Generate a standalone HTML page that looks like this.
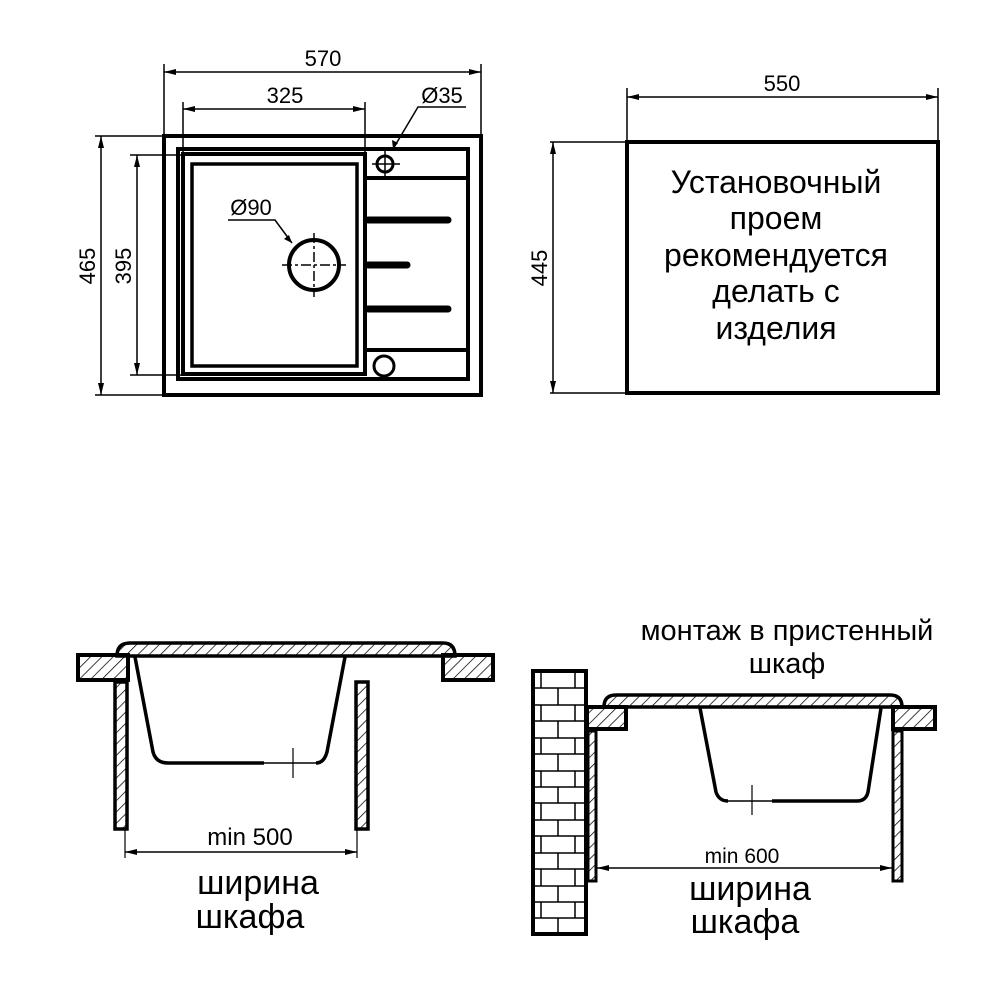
<!DOCTYPE html>
<html><head><meta charset="utf-8"><style>html,body{margin:0;padding:0;background:#fff}svg{display:block}text{font-family:"Liberation Sans",Arial,sans-serif;fill:#000}</style></head><body>
<svg width="1000" height="1000" viewBox="0 0 1000 1000" xmlns="http://www.w3.org/2000/svg">
<defs>
<marker id="a" viewBox="0 0 12 6" refX="12" refY="3" markerWidth="12" markerHeight="6" orient="auto-start-reverse" markerUnits="userSpaceOnUse"><path d="M0,0 L12,3 L0,6 Z" fill="#000"/></marker>
<pattern id="h" width="8" height="8" patternUnits="userSpaceOnUse" patternTransform="rotate(45)"><line x1="0" y1="0" x2="0" y2="8" stroke="#000" stroke-width="1.5"/></pattern>
</defs>
<g fill="none" stroke="#000">
<rect x="164" y="136" width="317" height="259" stroke-width="4"/>
<rect x="178" y="149" width="290" height="230" stroke-width="4"/>
<rect x="183" y="154" width="182" height="220" stroke-width="4"/>
<rect x="192" y="164" width="165" height="202" stroke-width="3.5"/>
<line x1="365" y1="178" x2="468" y2="178" stroke-width="4"/>
<line x1="365" y1="350" x2="468" y2="350" stroke-width="4"/>
<g stroke-width="7" stroke-linecap="round">
<line x1="368" y1="220" x2="448" y2="220"/><line x1="368" y1="265" x2="407" y2="265"/><line x1="368" y1="309" x2="448" y2="309"/></g>
<circle cx="385" cy="164" r="8" stroke-width="3"/>
<line x1="372" y1="164" x2="400" y2="164" stroke-width="1.5"/><line x1="385" y1="151" x2="385" y2="177" stroke-width="1.5"/>
<circle cx="384" cy="366" r="10" stroke-width="3"/>
<circle cx="314" cy="265" r="25" stroke-width="4"/>
<line x1="282" y1="265" x2="346" y2="265" stroke-width="1.5" stroke-dasharray="10,3,3,3"/>
<line x1="314" y1="233" x2="314" y2="297" stroke-width="1.5" stroke-dasharray="10,3,3,3"/>
<g stroke-width="1.5">
<line x1="164" y1="64" x2="164" y2="136"/><line x1="481" y1="64" x2="481" y2="136"/>
<line x1="164" y1="72" x2="481" y2="72" marker-start="url(#a)" marker-end="url(#a)"/>
<line x1="183" y1="102" x2="183" y2="154"/><line x1="365" y1="102" x2="365" y2="154"/>
<line x1="183" y1="109" x2="365" y2="109" marker-start="url(#a)" marker-end="url(#a)"/>
<polyline points="466,107 418,107 393,149"/>
<polyline points="228,220 275,220 292,243"/>
<line x1="95" y1="136" x2="164" y2="136"/><line x1="95" y1="395" x2="164" y2="395"/>
<line x1="101" y1="136" x2="101" y2="395" marker-start="url(#a)" marker-end="url(#a)"/>
<line x1="130" y1="155" x2="183" y2="155"/><line x1="130" y1="375" x2="183" y2="375"/>
<line x1="137" y1="155" x2="137" y2="375" marker-start="url(#a)" marker-end="url(#a)"/>
<line x1="627" y1="88" x2="627" y2="142"/><line x1="938" y1="88" x2="938" y2="142"/>
<line x1="627" y1="97" x2="938" y2="97" marker-start="url(#a)" marker-end="url(#a)"/>
<line x1="550" y1="142" x2="627" y2="142"/><line x1="550" y1="393" x2="627" y2="393"/>
<line x1="553" y1="142" x2="553" y2="393" marker-start="url(#a)" marker-end="url(#a)"/>
</g>
<path d="M393,149 l-1,-9 l6,3 z" fill="#000" stroke="none"/>
<path d="M292,243 l-8,-4 l5,-4 z" fill="#000" stroke="none"/>
<rect x="627" y="142" width="311" height="251" stroke-width="4"/>

<rect x="78" y="655" width="50" height="25" stroke-width="4" fill="url(#h)"/>
<rect x="443" y="655" width="50" height="25" stroke-width="4" fill="url(#h)"/>
<path d="M117,656 Q117,643 130,643 L443,643 Q455,643 455,656 Z" stroke-width="3.5" fill="url(#h)"/>
<rect x="115" y="682" width="12" height="147" stroke-width="3.5" fill="url(#h)"/>
<rect x="356" y="682" width="12" height="147" stroke-width="3.5" fill="url(#h)"/>
<path d="M135,657 L153,752 Q156,763 168,763 L264,763" stroke-width="3.5"/>
<line x1="264" y1="763" x2="316" y2="763" stroke-width="1.5"/>
<path d="M316,763 Q324,763 327,752 L345,657" stroke-width="3.5"/>
<line x1="293" y1="748" x2="293" y2="778" stroke-width="1.2"/>
<line x1="125" y1="829" x2="125" y2="858" stroke-width="1.2"/>
<line x1="357" y1="829" x2="357" y2="858" stroke-width="1.2"/>
<line x1="125" y1="852" x2="357" y2="852" stroke-width="1.5" marker-start="url(#a)" marker-end="url(#a)"/>

<rect x="533" y="671" width="53" height="263" stroke-width="4"/>
<g stroke-width="1.5">
<line x1="533" y1="688" x2="586" y2="688"/><line x1="533" y1="705" x2="586" y2="705"/><line x1="533" y1="721" x2="586" y2="721"/><line x1="533" y1="738" x2="586" y2="738"/><line x1="533" y1="754" x2="586" y2="754"/><line x1="533" y1="771" x2="586" y2="771"/><line x1="533" y1="787" x2="586" y2="787"/><line x1="533" y1="803" x2="586" y2="803"/><line x1="533" y1="820" x2="586" y2="820"/><line x1="533" y1="836" x2="586" y2="836"/><line x1="533" y1="853" x2="586" y2="853"/><line x1="533" y1="869" x2="586" y2="869"/><line x1="533" y1="886" x2="586" y2="886"/><line x1="533" y1="902" x2="586" y2="902"/><line x1="533" y1="918" x2="586" y2="918"/>
<path d="M541,671v17M575,671v17M558,688v17M541,705v16M575,705v16M558,721v17M541,738v16M575,738v16M558,754v17M541,771v16M575,771v16M558,787v16M541,803v17M575,803v17M558,820v16M541,836v17M575,836v17M558,853v16M541,869v17M575,869v17M558,886v16M541,902v16M575,902v16M558,918v16"/>
</g>
<rect x="587" y="707" width="39" height="22" stroke-width="4" fill="url(#h)"/>
<rect x="893" y="707" width="42" height="22" stroke-width="4" fill="url(#h)"/>
<path d="M604,707 Q604,695 616,695 L890,695 Q902,695 902,707 Z" stroke-width="3.5" fill="url(#h)"/>
<rect x="588" y="731" width="8" height="150" stroke-width="3" fill="url(#h)"/>
<rect x="893" y="731" width="9" height="150" stroke-width="3" fill="url(#h)"/>
<path d="M700,708 L716,792 Q719,801 728,801" stroke-width="3.5"/>
<line x1="728" y1="801" x2="772" y2="801" stroke-width="1.5"/>
<path d="M772,801 L857,801 Q866,801 868,792 L881,708" stroke-width="3.5"/>
<line x1="752" y1="785" x2="752" y2="815" stroke-width="1.2"/>
<line x1="597" y1="868" x2="892" y2="868" stroke-width="1.5" marker-start="url(#a)" marker-end="url(#a)"/>
</g>

<g font-size="22" text-anchor="middle">
<text x="323" y="66">570</text>
<text x="285" y="103">325</text>
<text x="442" y="103">Ø35</text>
<text x="251" y="215">Ø90</text>
<text x="782" y="91">550</text>
<text transform="translate(95,266) rotate(-90)">465</text>
<text transform="translate(131,266) rotate(-90)">395</text>
<text transform="translate(547,268) rotate(-90)">445</text>
<text x="250" y="845" font-size="24">min 500</text>
<text x="742" y="863" font-size="21">min 600</text>
</g>
<g font-size="32" text-anchor="middle">
<text x="776" y="193">Установочный</text>
<text x="776" y="229">проем</text>
<text x="776" y="266">рекомендуется</text>
<text x="776" y="302">делать с</text>
<text x="776" y="339">изделия</text>
</g>
<g font-size="34" text-anchor="middle">
<text x="258" y="894">ширина</text>
<text x="250" y="928">шкафа</text>
<text x="750" y="900">ширина</text>
<text x="745" y="933">шкафа</text>
</g>
<g font-size="29" text-anchor="middle">
<text x="787" y="640">монтаж в пристенный</text>
<text x="787" y="673">шкаф</text>
</g>
</svg>
</body></html>
